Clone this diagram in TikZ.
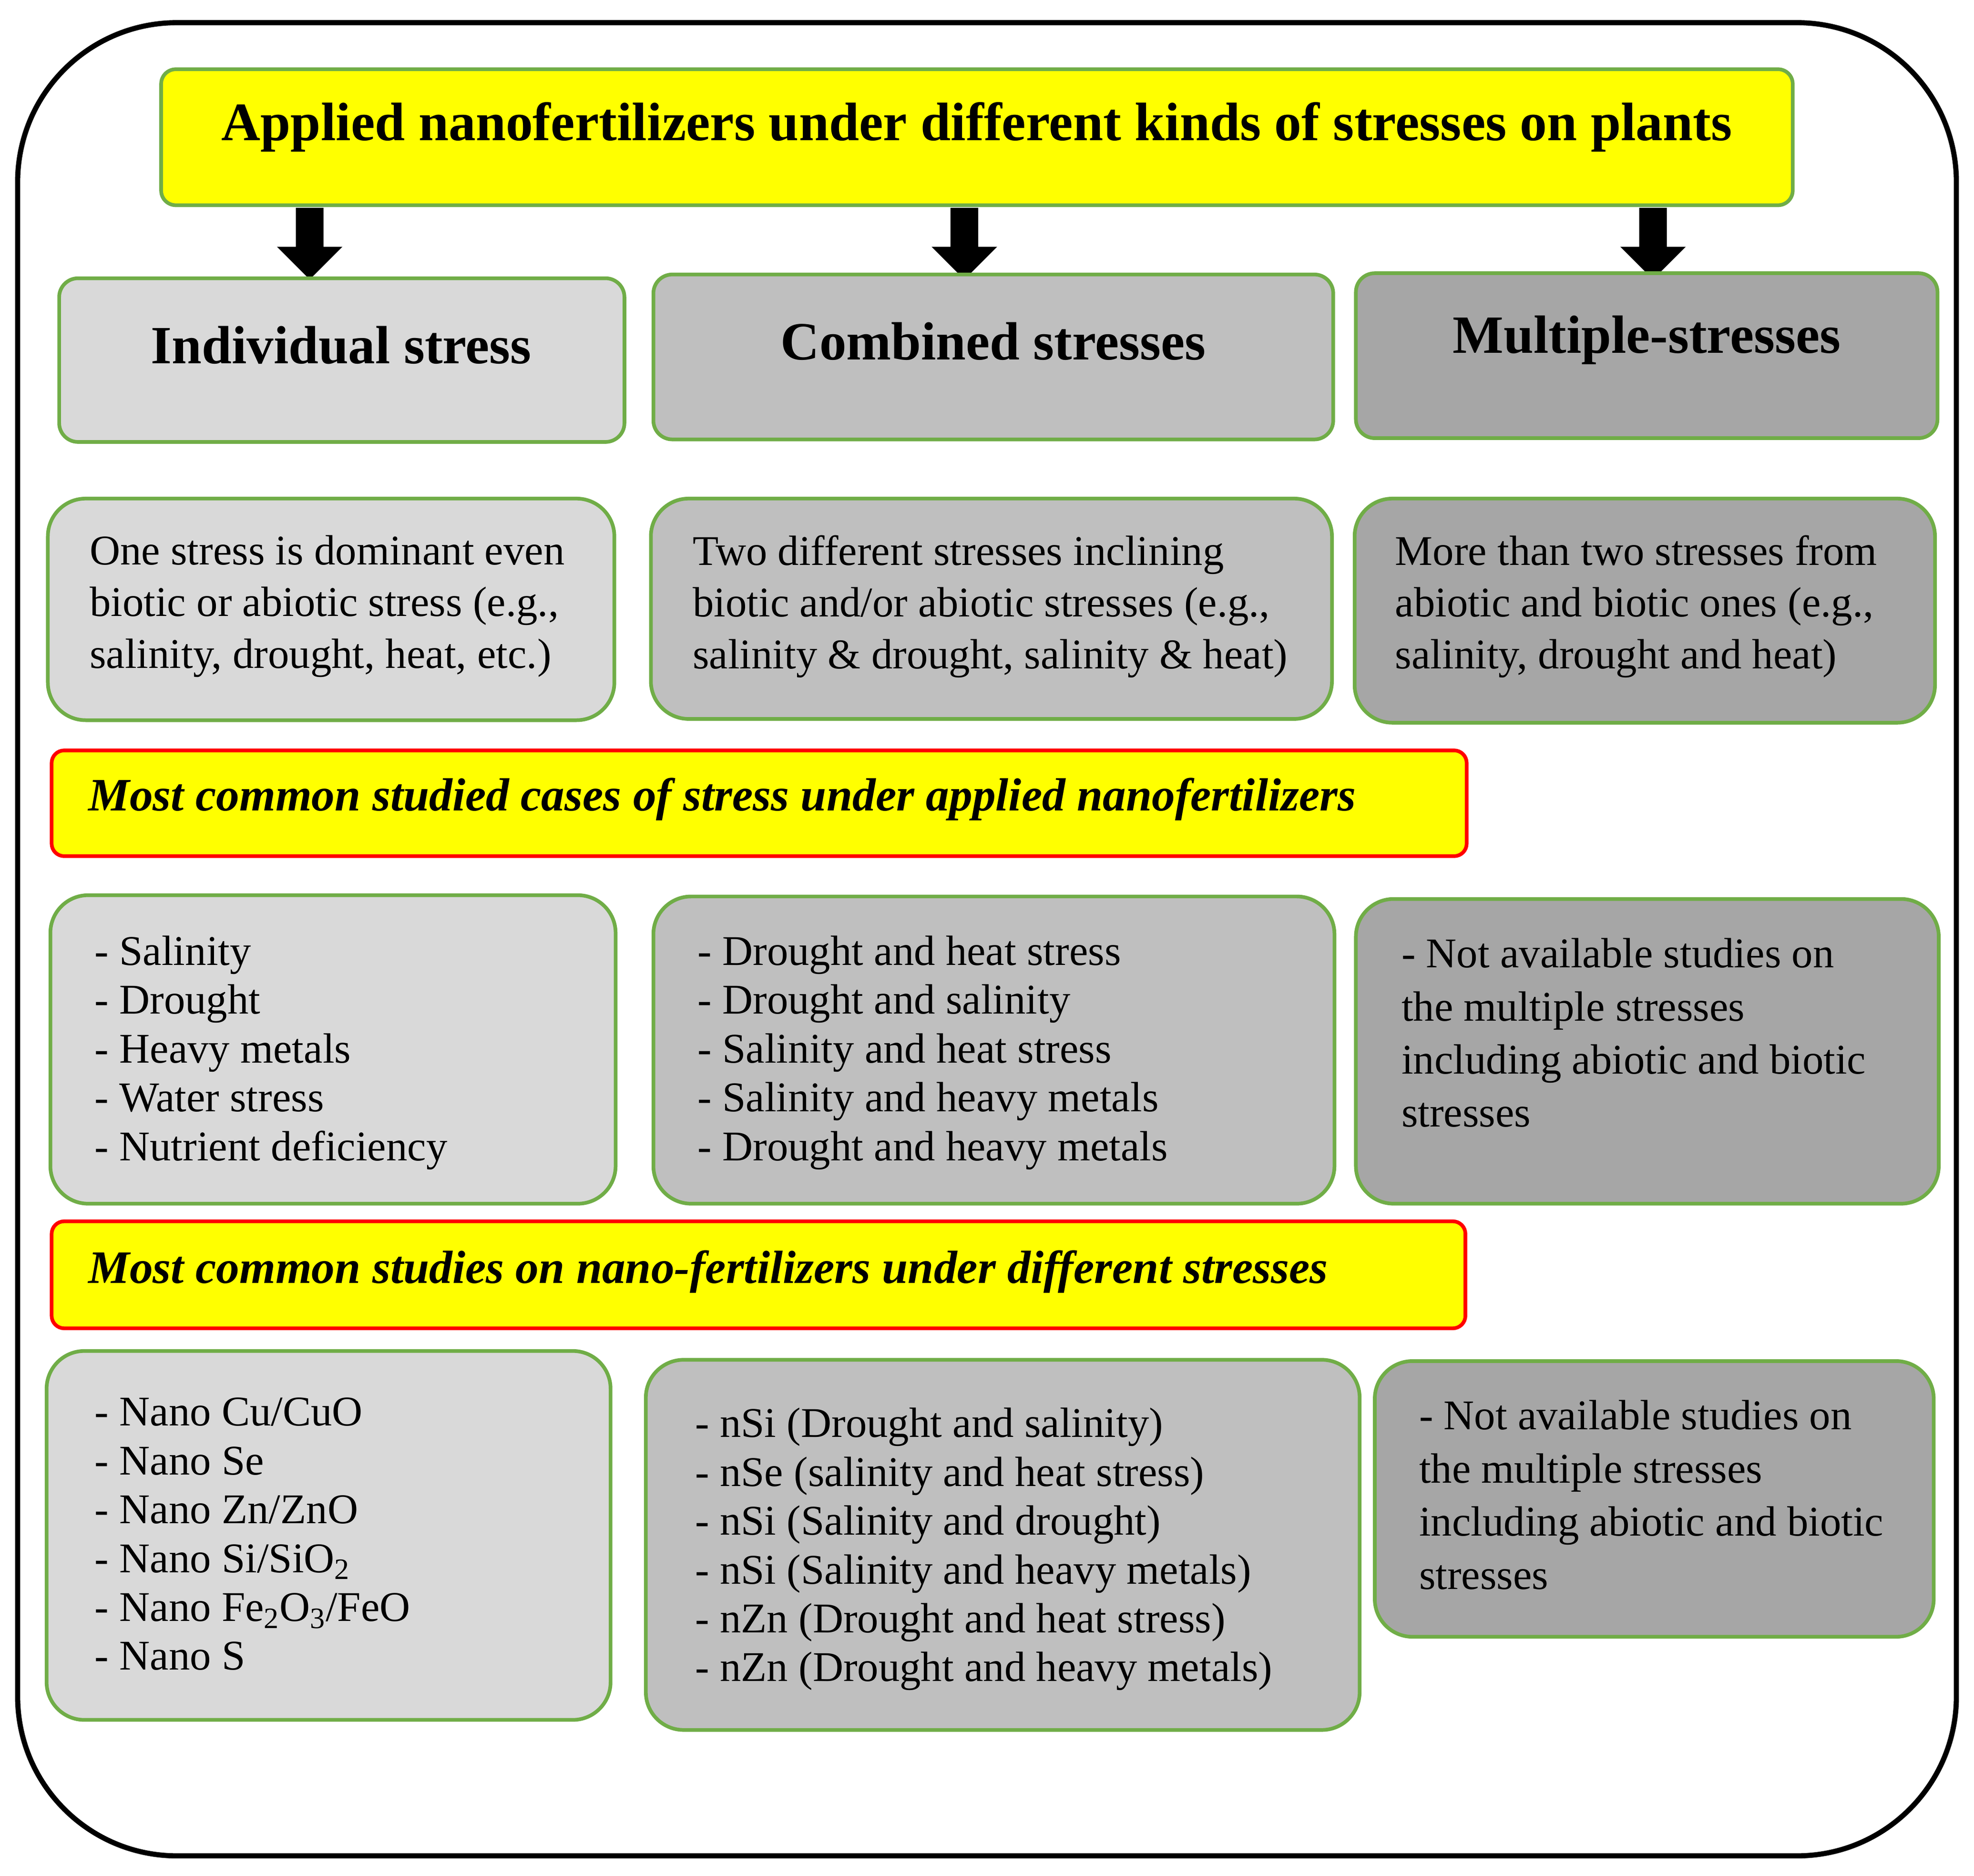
\documentclass[tikz,border=0pt]{standalone}
\usepackage{fontspec}
\setmainfont{Liberation Serif}
\definecolor{gborder}{RGB}{112,173,71}
\definecolor{ga}{RGB}{217,217,217}
\definecolor{gb}{RGB}{191,191,191}
\definecolor{gc}{RGB}{166,166,166}
\definecolor{yel}{RGB}{255,255,0}
\definecolor{redb}{RGB}{255,0,0}
\tikzset{
 box/.style={draw=gborder,line width=2.5pt,rounded corners=0.9cm},
 hbox/.style={draw=gborder,line width=2.5pt,rounded corners=0.45cm},
 ban/.style={draw=redb,fill=yel,line width=2.5pt,rounded corners=0.3cm},
 body/.style={font=\fontsize{28.7pt}{33.1pt}\selectfont,align=left,anchor=north west,inner sep=0pt},
 head/.style={font=\fontsize{36.5pt}{40pt}\selectfont\bfseries,inner sep=0pt},
 bant/.style={font=\fontsize{31.5pt}{36pt}\selectfont\bfseries\itshape,anchor=west,inner sep=0pt},
 barrow/.style={fill=black}
}
\begin{document}
\begin{tikzpicture}[x=0.03cm,y=-0.03cm]
\useasboundingbox (0,0) rectangle (1568,1490);
\draw[line width=3.5pt,rounded corners=3.8cm] (14,18) rectangle (1554,1474);
% title
\draw[hbox,fill=yel,rounded corners=0.35cm] (128,55) rectangle (1424,163);
\node[head,font=\fontsize{36.7pt}{40pt}\selectfont\bfseries] (title) at (776,101) {Applied nanofertilizers under different kinds of stresses on plants};
% arrows
\foreach \x/\n in {246/a1,766/a2,1313/a3}{
 \fill[barrow] (\x-11,165) -- (\x+11,165) -- (\x+11,196) -- (\x+26,196) -- (\x,222) -- (\x-26,196) -- (\x-11,196) -- cycle;
 \coordinate (\n) at (\x,222);
}
% headers
\draw[hbox,fill=ga] (47,221) rectangle (496,351);
\node[head] (h1) at (271,274) {Individual stress};
\draw[hbox,fill=gb] (519,218) rectangle (1059,349);
\node[head] (h2) at (789,271) {Combined stresses};
\draw[hbox,fill=gc] (1077,217) rectangle (1539,348);
\node[head] (h3) at (1308,270) {Multiple-stresses};
% descriptions
\draw[box,fill=ga] (38,396) rectangle (488,572);
\node[body,font=\fontsize{28.7pt}{35pt}\selectfont] (d1) at (71,425) {One stress is dominant even\\biotic or abiotic stress (e.g.,\\salinity, drought, heat, etc.)};
\draw[box,fill=gb] (517,396) rectangle (1058,571);
\node[body,font=\fontsize{28.7pt}{35pt}\selectfont] (d2) at (550,425) {Two different stresses inclining\\biotic and/or abiotic stresses (e.g.,\\salinity \& drought, salinity \& heat)};
\draw[box,fill=gc] (1076,396) rectangle (1537,574);
\node[body,font=\fontsize{28.7pt}{35pt}\selectfont] (d3) at (1108,425) {More than two stresses from\\abiotic and biotic ones (e.g.,\\salinity, drought and heat)};
% banner 1
\draw[ban] (41,596) rectangle (1165,680);
\node[bant] (b1) at (70,635) {Most common studied cases of stress under applied nanofertilizers};
% lists
\draw[box,fill=ga] (40,711) rectangle (489,956);
\node[body] (l1) at (75,743) {- Salinity\\- Drought\\- Heavy metals\\- Water stress\\- Nutrient deficiency};
\draw[box,fill=gb] (519,712) rectangle (1060,956);
\node[body] (l2) at (554,743) {- Drought and heat stress\\- Drought and salinity\\- Salinity and heat stress\\- Salinity and heavy metals\\- Drought and heavy metals};
\draw[box,fill=gc] (1077,714) rectangle (1540,956);
\node[body,font=\fontsize{28.7pt}{36pt}\selectfont] (l3) at (1113,745) {- Not available studies on\\the multiple stresses\\including abiotic and biotic\\stresses};
% banner 2
\draw[ban] (41,970) rectangle (1164,1055);
\node[bant] (b2) at (70,1010) {Most common studies on nano-fertilizers under different stresses};
% bottom
\draw[box,fill=ga] (37,1073) rectangle (485,1366);
\node[body] (n1) at (75,1110) {- Nano Cu/CuO\\- Nano Se\\- Nano Zn/ZnO\\- Nano Si/SiO\textsubscript{2}\\- Nano Fe\textsubscript{2}O\textsubscript{3}/FeO\\- Nano S};
\draw[box,fill=gb] (513,1080) rectangle (1080,1374);
\node[body] (n2) at (552,1118) {- nSi (Drought and salinity)\\- nSe (salinity and heat stress)\\- nSi (Salinity and drought)\\- nSi (Salinity and heavy metals)\\- nZn (Drought and heat stress)\\- nZn (Drought and heavy metals)};
\draw[box,fill=gc] (1092,1081) rectangle (1536,1300);
\node[body,font=\fontsize{28.7pt}{36pt}\selectfont] (n3) at (1127,1112) {- Not available studies on\\the multiple stresses\\including abiotic and biotic\\stresses};
\end{tikzpicture}
\end{document}
